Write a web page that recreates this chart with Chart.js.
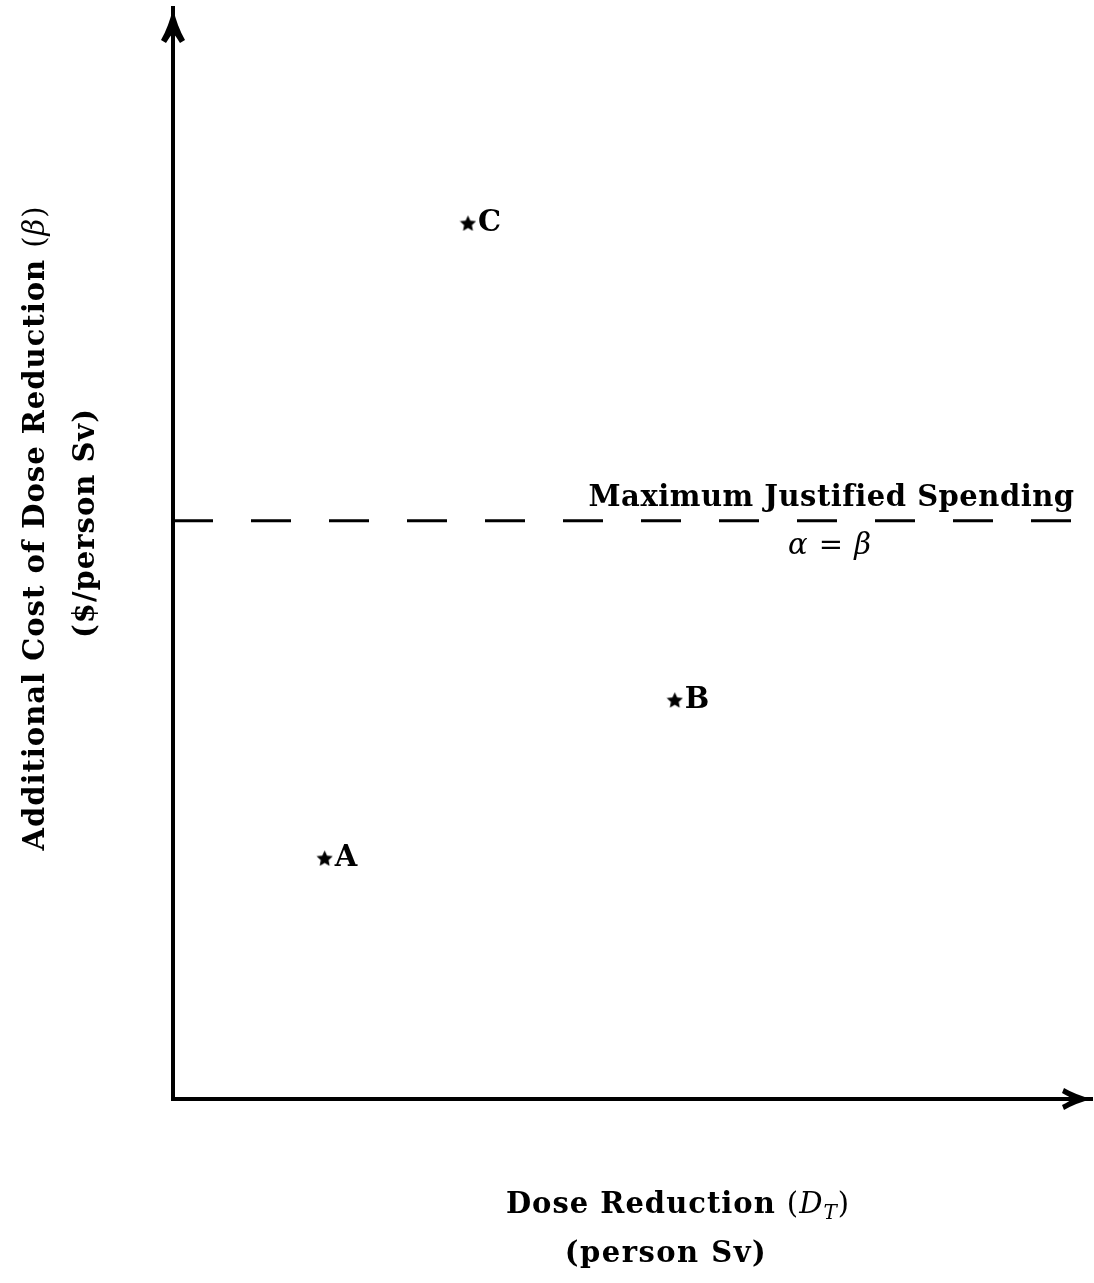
<!DOCTYPE html>
<html>
<head>
<meta charset="utf-8">
<title>Additional Cost of Dose Reduction</title>
<script src="https://cdn.jsdelivr.net/npm/chart.js@4.4.1/dist/chart.umd.min.js"></script>
<style>
    body { margin: 0; background: #fff; overflow: hidden; }
    #wrap { width: 1094px; height: 1283px; position: relative; }
</style>
</head>
<body>
<div id="wrap"><canvas id="costChart"></canvas></div>
<script>
// options A, B, C in arbitrary units (no ticks on the original figure)
const optionNames = ["A", "B", "C"];
const doseReduction = [1.65, 5.46, 3.21];
const additionalCost = [2.21, 3.66, 8.03];

// maximum justified spending, alpha = beta
const alphaLevel = 5.30;
const alphaLineX = [0, 9.81];

const xRange = [0, 10];
const yRange = [0, 10];

const serif = '"DejaVu Serif", "Liberation Serif", serif';
const fBold = "bold 29px " + serif;
const fItal = "italic 29px " + serif;
const fReg = "29px " + serif;
const fSub = "italic 20px " + serif;

function makeStar(size) {
    let c = document.createElement("canvas");
    c.width = size;
    c.height = size;
    let g = c.getContext("2d");
    let outer = size / 2, inner = outer * 0.48;
    g.beginPath();
    for (let i = 0; i < 10; i++) {
        let r = i % 2 ? inner : outer;
        let a = -Math.PI / 2 + i * Math.PI / 5;
        g.lineTo(size / 2 + r * Math.cos(a), size / 2 + 1 + r * Math.sin(a));
    }
    g.closePath();
    g.fillStyle = "#000";
    g.fill();
    return c;
}

// draw a line of text made of pieces with different fonts
function drawRuns(ctx, runs, x, y, align, spacing) {
    ctx.letterSpacing = (spacing === undefined ? 1 : spacing) + "px";
    let total = 0;
    runs.forEach(r => { ctx.font = r[1]; total += ctx.measureText(r[0]).width; });
    let pos = align === "center" ? x - total / 2 : (align === "right" ? x - total : x);
    ctx.textAlign = "left";
    ctx.textBaseline = "alphabetic";
    runs.forEach(r => {
        ctx.font = r[1];
        ctx.fillText(r[0], pos, y + (r[2] || 0));
        pos += ctx.measureText(r[0]).width;
    });
}

const sketchPlugin = {
    id: "sketch",
    afterDraw(chart) {
        let ctx = chart.ctx;
        let area = chart.chartArea;
        let xs = chart.scales.x, ys = chart.scales.y;
        ctx.save();
        ctx.fillStyle = "#000";

        // arrow heads
        let ax = area.left, ay = area.top;
        ctx.beginPath();
        ctx.moveTo(ax, ay);
        ctx.quadraticCurveTo(ax - 4, ay + 18, ax - 12, ay + 32);
        ctx.lineTo(ax - 7, ay + 35);
        ctx.quadraticCurveTo(ax - 2, ay + 27, ax, ay + 25);
        ctx.quadraticCurveTo(ax + 2, ay + 27, ax + 7, ay + 35);
        ctx.lineTo(ax + 12, ay + 32);
        ctx.quadraticCurveTo(ax + 4, ay + 18, ax, ay);
        ctx.fill();

        let bx = area.right, by = area.bottom;
        ctx.beginPath();
        ctx.moveTo(bx, by);
        ctx.quadraticCurveTo(bx - 16, by - 4, bx - 28, by - 11);
        ctx.lineTo(bx - 30, by - 6);
        ctx.quadraticCurveTo(bx - 22, by - 2, bx - 20, by);
        ctx.quadraticCurveTo(bx - 22, by + 2, bx - 30, by + 6);
        ctx.lineTo(bx - 28, by + 11);
        ctx.quadraticCurveTo(bx - 16, by + 4, bx, by);
        ctx.fill();

        // point labels
        optionNames.forEach((name, i) => {
            let px = xs.getPixelForValue(doseReduction[i]);
            let py = ys.getPixelForValue(additionalCost[i]);
            drawRuns(ctx, [[name, fBold]], px + 10, py + 8, "left");
        });

        // labels on the alpha = beta line
        let ly = ys.getPixelForValue(alphaLevel);
        let lx = xs.getPixelForValue(alphaLineX[1]);
        drawRuns(ctx, [["Maximum Justified Spending", fBold]], lx, ly - 15, "right", 0.5);
        drawRuns(ctx, [["α", fItal], [" = ", fReg], ["β", fItal]], xs.getPixelForValue(7.15), ly + 33, "center");

        // x axis title
        drawRuns(ctx, [["Dose Reduction ", fBold], ["(", fReg], ["D", fItal], ["T", fSub, 6], [")", fReg]],
            678, 1213, "center");
        drawRuns(ctx, [["(person Sv)", fBold]], 666, 1262, "center", 1.5);

        // y axis title, rotated
        ctx.rotate(-Math.PI / 2);
        drawRuns(ctx, [["Additional Cost of Dose Reduction ", fBold], ["(", fReg], ["β", fItal], [")", fReg]],
            -528, 44, "center");
        drawRuns(ctx, [["($/person Sv)", fBold]], -523, 94, "center");
        ctx.restore();
    }
};

const star = makeStar(17);

new Chart(document.getElementById("costChart"), {
    type: "scatter",
    data: {
        datasets: [
            {
                label: "Options",
                data: optionNames.map((n, i) => ({ x: doseReduction[i], y: additionalCost[i] })),
                pointStyle: star,
                pointRadius: 8,
                backgroundColor: "#000",
                borderWidth: 0
            },
            {
                type: "line",
                label: "Maximum Justified Spending",
                data: alphaLineX.map(x => ({ x: x, y: alphaLevel })),
                borderColor: "#000",
                borderWidth: 3,
                borderDash: [40, 38],
                pointRadius: 0,
                fill: false
            }
        ]
    },
    options: {
        responsive: true,
        maintainAspectRatio: false,
        animation: false,
        layout: { autoPadding: false, padding: { left: 173, top: 8, right: 2, bottom: 184 } },
        plugins: {
            legend: { display: false },
            tooltip: { enabled: false }
        },
        scales: {
            x: {
                type: "linear",
                min: xRange[0],
                max: xRange[1],
                ticks: { display: false },
                grid: { display: false, drawTicks: false },
                border: { display: true, color: "#000", width: 4 }
            },
            y: {
                type: "linear",
                min: yRange[0],
                max: yRange[1],
                ticks: { display: false },
                grid: { display: false, drawTicks: false },
                border: { display: true, color: "#000", width: 4 }
            }
        }
    },
    plugins: [sketchPlugin]
});
</script>
</body>
</html>
